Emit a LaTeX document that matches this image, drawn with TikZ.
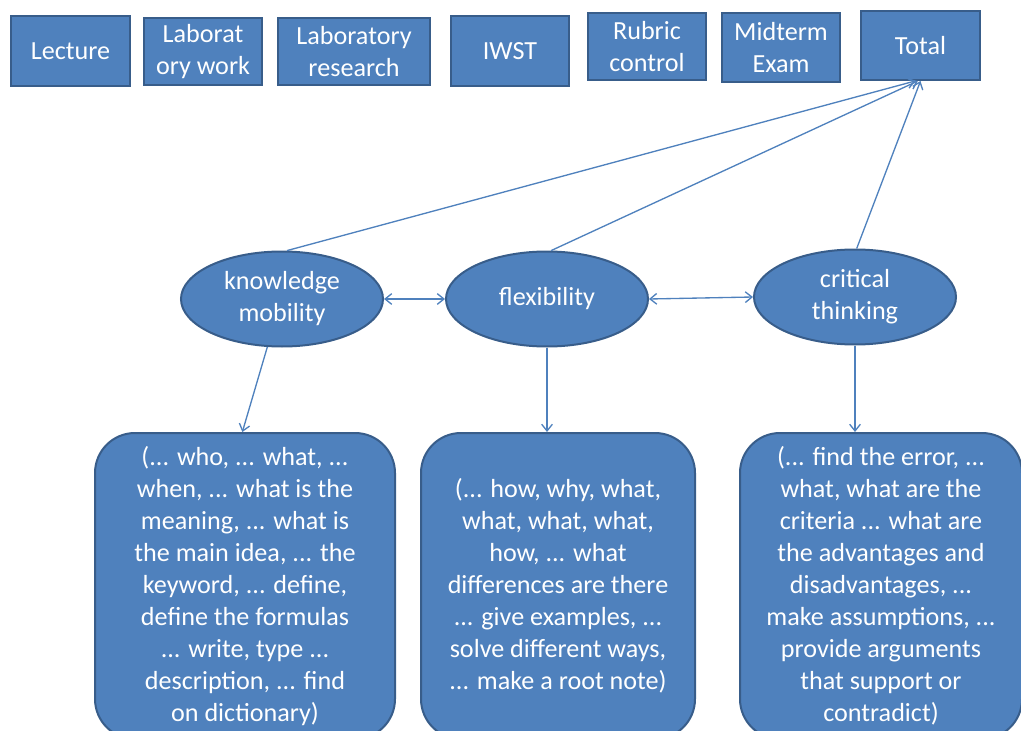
\documentclass[tikz,border=0pt]{standalone}
\usepackage{fontspec}
\setmainfont{Carlito}
\usetikzlibrary{shapes.geometric, arrows.meta}

\definecolor{boxfill}{HTML}{4F81BD}
\definecolor{boxline}{HTML}{385D8A}

\tikzset{
  base/.style={draw=boxline, line width=1.5pt, fill=boxfill, text=white,
    inner sep=0pt, align=center, font=\fontsize{19.6}{24}\selectfont},
  topbox/.style={base, rectangle, minimum height=51pt},
  oval/.style={base, ellipse, minimum width=151.5pt, minimum height=71.25pt},
  notebox/.style={base, rectangle, rounded corners=30pt, minimum height=229.5pt},
  link/.style={draw=boxfill, line width=1pt, -{Straight Barb[length=5pt, width=8pt]}},
  twolink/.style={link, {Straight Barb[length=5pt, width=8pt]}-{Straight Barb[length=5pt, width=8pt]}}
}

\begin{document}
\begin{tikzpicture}[x=0.75pt, y=-0.75pt]
    \clip (0, 0) rectangle (1021, 731);

    % top row
    \node[topbox, minimum width=89.25pt, minimum height=52.5pt] (lec) at (70.5, 51) {Lecture};
    \node[topbox, minimum width=88.5pt, minimum height=50.25pt] (labw) at (203, 51.5) {Laborat\\ory work};
    \node[topbox, minimum width=114pt, minimum height=50.25pt] (labr) at (354, 51.5) {Laboratory\\research};
    \node[topbox, minimum width=88.5pt, minimum height=52.5pt] (iwst) at (510, 51) {IWST};
    \node[topbox, minimum width=88.5pt, minimum height=50.25pt] (rub) at (647, 46.5) {Rubric\\control};
    \node[topbox, minimum width=88.5pt, minimum height=51.75pt] (mid) at (781, 47.5) {Midterm\\Exam};
    \node[topbox, minimum width=89.25pt, minimum height=51.75pt] (tot) at (920.5, 45.5) {Total};

    % skills
    \node[oval] (know) at (282, 299) {knowledge\\mobility};
    \node[oval] (flex) at (547, 299) {flexibility};
    \node[oval] (crit) at (855, 297) {critical\\thinking};

    % question lists
    \node[notebox, minimum width=225pt] (qknow) at (245, 586)
      {(... who, ... what, ...\\when, ... what is the\\meaning, ... what is\\the main idea, ... the\\keyword, ... define,\\define the formulas\\... write, type ...\\description, ... find\\on dictionary)};
    \node[notebox, minimum width=205.5pt] (qflex) at (558, 586)
      {(... how, why, what,\\what, what, what,\\how, ... what\\differences are there\\... give examples, ...\\solve different ways,\\... make a root note)};
    \node[notebox, minimum width=211.5pt] (qcrit) at (881, 586)
      {(... find the error, ...\\what, what are the\\criteria ... what are\\the advantages and\\disadvantages, ...\\make assumptions, ...\\provide arguments\\that support or\\contradict)};

    % connectors
    \draw[link] (know.84) -- ([xshift=-4pt]tot.south);
    \draw[link] (flex.85) -- ([xshift=-2pt]tot.south);
    \draw[link] (crit.88) -- (tot.south);

    \draw[twolink] (know.east) -- (flex.west);
    \draw[twolink] (flex.east) -- (crit.west);

    \draw[link] (know.253) -- ([xshift=-2pt]qknow.north);
    \draw[link] (flex.south) -- (flex.south |- qflex.north);
    \draw[link] (crit.south) -- (crit.south |- qcrit.north);
\end{tikzpicture}
\end{document}
